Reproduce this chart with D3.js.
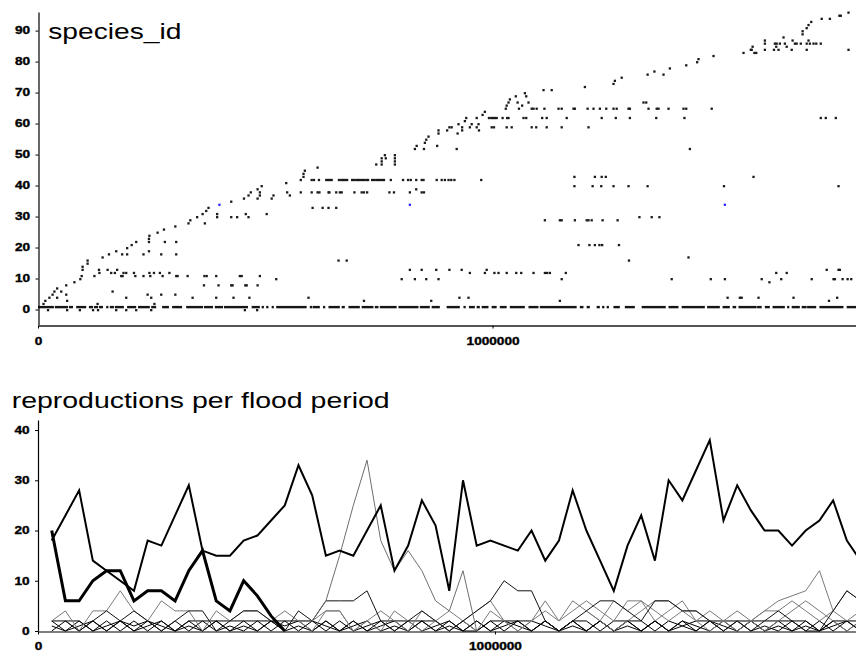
<!DOCTYPE html>
<html><head><meta charset="utf-8">
<script src="https://cdn.jsdelivr.net/npm/d3@7"></script>
<style>
html,body{margin:0;padding:0;background:#fff;}
svg{display:block;}
</style></head><body>
<svg id="chart" width="856" height="652"></svg>
<script>
// ---------------- DATA ----------------
// times are given in thousands of simulation steps
const TIME_UNIT = 1000;

// top panel: species_id vs time
const speciesIds = [0,2,3,4,5,6,7,8,9,10,11,12,13,14,15,16,17,18,19,20,21,22,23,24,25,26,27,28,29,30,31,32,33,34,35,36,37,38,39,40,41,42,43,44,45,46,47,48,49,50,52,53,54,55,56,57,58,59,60,61,62,63,64,65,66,67,68,69,70,71,72,73,74,75,76,77,78,79,80,81,82,83,84,85,86,87,88,89,90,91,92,93,94,95,96];
const sightings = [
  [22,64,92,121,132,172,194,216,249,455,482],
  [12,131,256],
  [16,64,717,865,1148,1740],
  [25,42,194,249,340,392,430,465,595,927,947,1517,1544,1548,1585,1662,1758],
  [32,62,241,271,302],
  [36,51,164],
  [42],
  [62,365,397,425,428,456,459,483],
  [80,1609],
  [93,524,800,829,854,881,1152,1394,1480,1511,1592,1635,1702,1750,1753,1770,1781,1789],
  [96,124,183,186,214,232,247,274,304,307,329,366,371,392,444,448,488],
  [135,161,169,188,194,211,245,255,268,289,950,983,1004,1013,1031,1052,1063,1090,1115,1120,1126,1161,1624,1647],
  [98,134,153,174,818,844,876,905,932,987,1735,1761,1764],
  [98],
  [109],
  [109,661,679,1300],
  [142,1431],
  [156,185,196,232,271,304],
  [172,244],
  [196],
  [206,1189,1213,1225,1235,1241,1278],
  [216,244,279,304],
  [244],
  [245],
  [263],
  [277],
  [302],
  [331,367],
  [335,1115,1148,1152,1181,1207,1211,1218,1242,1275],
  [350,394,425,438,463,1323,1350,1367],
  [362,394,457,503],
  [370],
  [375,604,626,639,656],
  [399,818,1511],
  [425],
  [453,483,514],
  [463,488,518,554],
  [468,488,548,578,602,615,619,639,641,656,664,668,696,712,717,724,773,783,818,844,849],
  [483,832],
  [492,1180,1220,1239,1266,1299,1341,1509,1761],
  [546],
  [578,602,607,618,634,638,642,646,662,667,671,675,680,691,695,700,704,708,713,717,722,726,735,739,744,748,752,757,761,776,803,814,820,832,844,848,877,888,895,903,909,916,975],
  [584,1180,1225,1240,1249,1574],
  [584],
  [587],
  [615],
  [744,756,785],
  [756,785],
  [756,765,785],
  [763,785],
  [829,849,921,1434],
  [833,878],
  [851],
  [854],
  [859],
  [881,923],
  [881,900,933,970],
  [905,910,933,950,965,998,1003,1031,1042,1086,1096,1119,1152,1211],
  [925,954,969],
  [939],
  [942,965,992,997,1001,1005,1009,1022,1032,1035,1068,1074,1109,1119,1163,1240,1271,1302,1360,1422,1722,1733,1755],
  [978],
  [983],
  [1029,1058,1086,1090,1097,1114,1145,1152,1178,1181,1209,1222,1236,1250,1266,1273,1299,1302,1343,1361,1365,1387,1420,1426,1482],
  [1031,1065],
  [1035,1055,1079,1332,1338],
  [1038],
  [1051,1074],
  [1071],
  [1112,1130],
  [1203],
  [1266],
  [1269],
  [1284],
  [1341,1376],
  [1356],
  [1390],
  [1426],
  [1450],
  [1453],
  [1486],
  [1552,1576,1580],
  [1568,1570,1599,1619,1629,1658,1691,1783],
  [1572,1624,1647],
  [1599,1621,1625,1632,1643,1665,1669,1678,1691,1698,1706,1712,1722],
  [1599,1660,1695],
  [1640],
  [1682],
  [1682],
  [1691],
  [1695],
  [1701],
  [1724,1742],
  [1763,1766],
  [1783]
];
const highlightedSpecies = [34];
// species 1 is present almost continuously: [start, end] runs
const species1Id = 1;
const species1Runs = [[0,35],[37,66],[68,77],[84,106],[112,121],[123,132],[134,143],[150,154],[158,167],[169,189],[196,216],[220,246],[249,260],[273,288],[295,317],[326,363],[365,385],[389,407],[409,462],[470,488],[492,497],[502,507],[514,518],[524,591],[598,601],[604,620],[627,629],[639,664],[668,675],[683,708],[712,738],[741,749],[752,789],[793,837],[840,862],[866,884],[899,928],[936,941],[948,961],[965,972],[976,991],[998,1009],[1016,1031],[1038,1071],[1079,1101],[1104,1185],[1192,1200],[1207,1214],[1229,1236],[1241,1246],[1251,1256],[1266,1280],[1291,1313],[1328,1381],[1387,1409],[1416,1467],[1472,1500],[1506,1522],[1528,1536],[1541,1581],[1582,1592],[1599,1610],[1616,1643],[1648,1651],[1658,1676],[1680,1691],[1692,1712],[1719,1772],[1779,1800]];
const speciesTicks = [0,10,20,30,40,50,60,70,80,90];
const timeTicks = [0,1000000];

// bottom panel: reproductions per flood period
const periodTimes = [30,60,90,120,150,180,210,240,270,300,330,360,390,420,450,480,510,540,570,600,630,660,690,720,750,780,810,840,870,900,930,960,990,1020,1050,1080,1110,1140,1170,1200,1230,1260,1290,1320,1350,1380,1410,1440,1470,1500,1530,1560,1590,1620,1650,1680,1710,1740,1770,1800];
const dominantSpecies = [18,23,28,14,12,10,8,18,17,23,29,16,15,15,18,19,22,25,33,27,15,16,15,20,25,12,17,26,21,8,30,17,18,17,16,20,14,18,28,20,14,8,17,23,14,30,26,32,38,22,29,24,20,20,17,20,22,26,18,14];
const earlySpecies = [20,6,6,10,12,12,6,8,8,6,12,16,6,4,10,7,3,0];
const burstSpecies = [null,null,null,null,null,null,null,null,null,null,null,null,null,null,null,null,null,null,2,2,6,15,25,34,18,12,16,12,6,4,12,0];
const minorA = [2,2,2,0,1,2,0,2,1,0,2,2,2,2,2,2,2,2,2,2,0,2,0,1,2,2,2,2,2,0,2,0,2,2,2,2,1,0,2,2,0,2,2,2,0,2,1,2,2,2,2,2,2,2,2,2,0,2,2,2];
const minorB = [0,2,0,2,0,2,1,2,0,2,0,2,0,1,0,2,0,2,0,2,1,0,2,0,2,0,2,0,1,2,0,2,0,2,1,0,2,0,2,0,2,0,2,0,2,0,2,1,0,2,0,2,0,2,0,1,0,2,0,2];
const minorC = [2,0,2,0,2,0,2,0,2,0,2,0,2,0,2,0,2,1,2,0,2,0,2,0,1,2,0,2,0,2,0,0,2,0,2,0,2,0,2,0,2,0,2,0,2,0,2,0,2,0,2,0,1,0,2,0,2,0,2,0];
const minorD = [1,0,1,2,0,2,0,1,2,0,1,0,2,0,1,0,2,0,1,0,2,0,1,2,0,1,0,2,0,1,0,2,0,1,2,0,2,0,1,0,2,0,1,0,2,0,1,0,2,1,0,2,0,1,0,2,0,1,2,0];
const minorE = [2,4,0,4,4,8,4,2,6,4,4,0,4,2,4,4,2,4,2,0,4,4,0,2,0,4,2,0,2,4,2,0,4,2,0,2,6,2,4,6,4,2,6,6,4,2,4,2,0,2,2,2,4,6,7,8,12,4,8,6];
const minorF = [null,2,0,2,4,2,4,2,0,2,4,4,0,2,4,4,2,0,4,2,6,6,6,8,2,0,2,4,2,0,2,4,6,10,8,8,2,0,2,4,6,6,4,2,6,6,4,4,2,0,2,0,2,4,2,0,0,4,8,6];
const minorG = [null,null,null,null,null,null,null,null,null,null,null,null,null,null,null,null,null,null,null,2,4,4,0,2,4,2,0,4,2,0,2,4,6,2,0,2,4,2,6,4,2,0,2,4,6,6,4,4,2,2,4,2,0,2,4,6,4,2,0,2];
const minorH = [null,null,null,null,null,null,null,null,null,null,null,null,null,null,null,null,null,null,null,null,null,null,null,null,null,null,null,null,null,null,null,null,null,null,null,null,null,null,null,4,2,6,4,6,2,4,6,2,4,2,0,2,4,4,6,4,2,4,2,4];
const reproTicks = [0,10,20,30,40];

const topTitle = "species_id";
const bottomTitle = "reproductions per flood period";

// ---------------- DRAWING ----------------
const STRETCH = 1.32;
const FONT = '"Liberation Sans", Arial, sans-serif';
const svg = d3.select("#chart");

// ---- top panel ----
const xTop = d3.scaleLinear().domain([0, 1800000]).range([38, 856.2]);
const yTop = d3.scaleLinear().domain([-5, 96]).range([325, 12]);

const topPanel = svg.append("g");
topPanel.append("g").selectAll("rect").data(species1Runs).join("rect")
  .attr("x", d => xTop(d[0]*TIME_UNIT))
  .attr("width", d => Math.max(2.2, xTop(d[1]*TIME_UNIT) - xTop(d[0]*TIME_UNIT)))
  .attr("y", yTop(species1Id) - 0.5)
  .attr("height", 2.4)
  .attr("fill", "#151515");

const pts = [];
speciesIds.forEach((id, i) => sightings[i].forEach(t => pts.push({id, t})));
topPanel.append("g").selectAll("rect").data(pts).join("rect")
  .attr("x", d => xTop(d.t*TIME_UNIT) - 1.1)
  .attr("y", d => yTop(d.id) - 0.5)
  .attr("width", 2.3).attr("height", 2.3)
  .attr("fill", d => highlightedSpecies.includes(d.id) ? "#2a2aff" : "#1a1a1a");

function styleAxis(g, side) {
  g.attr("font-family", FONT).attr("font-size", 10.3).attr("font-weight", "bold");
  g.selectAll(".tick line").attr("stroke", "#000");
  g.selectAll(".tick text").attr("fill", "#000")
    .attr("stroke", "#000").attr("stroke-width", 0.35)
    .attr("transform", `scale(${STRETCH},1)`);
  if (side === "left") {
    g.selectAll(".tick text").attr("x", -8.5 / STRETCH);
  }
}

const yAxTop = topPanel.append("g").attr("transform", "translate(38.5,0)")
  .call(d3.axisLeft(yTop).tickValues(speciesTicks).tickSize(3).tickPadding(5.5).tickSizeOuter(0));
styleAxis(yAxTop, "left");
yAxTop.select(".domain").attr("stroke", "#000").attr("stroke-width", 1.2);

const xAxTop = topPanel.append("g").attr("transform", "translate(0,325.5)")
  .call(d3.axisBottom(xTop).tickValues(timeTicks).tickSize(3).tickPadding(9).tickSizeOuter(0).tickFormat(d3.format("d")));
styleAxis(xAxTop, "bottom");
xAxTop.select(".domain").attr("stroke", "#555").attr("stroke-width", 2);

svg.append("text").attr("x", 48.3).attr("y", 39)
  .attr("font-family", FONT).attr("font-size", 21.5)
  .attr("textLength", 133).attr("lengthAdjust", "spacingAndGlyphs")
  .text(topTitle);

// ---- bottom panel ----
const xBot = d3.scaleLinear().domain([0, 1790000]).range([38, 856]);
const yBot = d3.scaleLinear().domain([0, 42]).range([631, 420]);

svg.append("defs").append("clipPath").attr("id", "clipBot")
  .append("rect").attr("x", 38).attr("y", 400).attr("width", 818).attr("height", 240);

const bottomPanel = svg.append("g");
const plot = bottomPanel.append("g").attr("clip-path", "url(#clipBot)");

const line = d3.line()
  .defined(d => d.v !== null && d.v !== undefined)
  .x(d => xBot(d.t*TIME_UNIT))
  .y(d => yBot(d.v));

const seriesList = [
  {values: minorD, color: "#000", width: 1},
  {values: minorC, color: "#000", width: 1},
  {values: minorB, color: "#000", width: 1},
  {values: minorA, color: "#000", width: 1},
  {values: minorH, color: "#7a7a7a", width: 1},
  {values: minorG, color: "#7a7a7a", width: 1},
  {values: minorE, color: "#7a7a7a", width: 1},
  {values: minorF, color: "#111", width: 1},
  {values: burstSpecies, color: "#6e6e6e", width: 1},
  {values: earlySpecies, color: "#000", width: 3},
  {values: dominantSpecies, color: "#000", width: 2}
];
seriesList.forEach(s => {
  const data = s.values.map((v, i) => ({t: periodTimes[i], v}));
  plot.append("path").datum(data)
    .attr("d", line)
    .attr("fill", "none")
    .attr("stroke", s.color)
    .attr("stroke-width", s.width)
    .attr("stroke-linejoin", "miter");
});

const yAxBot = bottomPanel.append("g").attr("transform", "translate(38,0)")
  .call(d3.axisLeft(yBot).tickValues(reproTicks).tickSize(3).tickPadding(5.5).tickSizeOuter(0));
styleAxis(yAxBot, "left");
yAxBot.select(".domain").attr("stroke", "#000").attr("stroke-width", 1.2);

const xAxBot = bottomPanel.append("g").attr("transform", "translate(0,631.5)")
  .call(d3.axisBottom(xBot).tickValues(timeTicks).tickSize(3).tickPadding(8.5).tickSizeOuter(0).tickFormat(d3.format("d")));
styleAxis(xAxBot, "bottom");
xAxBot.select(".domain").attr("stroke", "#000").attr("stroke-width", 1.2);

svg.append("text").attr("x", 11.7).attr("y", 407.5)
  .attr("font-family", FONT).attr("font-size", 21.5)
  .attr("textLength", 378).attr("lengthAdjust", "spacingAndGlyphs")
  .text(bottomTitle);
</script>
</body></html>
